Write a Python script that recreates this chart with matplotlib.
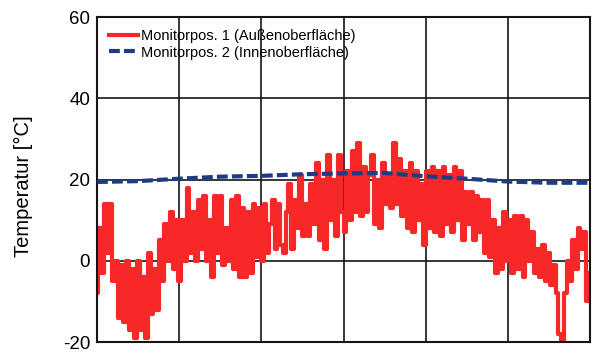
import numpy as np
import matplotlib.pyplot as plt

# temperatures (outer surface, dense oscillation)
aussen = [-8, 8, -3, 14, 2, 14, -5, 0, -14, -1, -15, 0, -17, -2, -19, 0, -17, -4, -19, 2,
          -13, -2, -12, 5, -5, 9, 0, 12, -2, 10,
          -5, 10, 0, 18, 2, 12, 0, 15, 3, 16, 0, 10, -4, 16, 2, 16, -1, 8, 0, 15,
          -2, 16, -4, 13, -4, 12, -3, 14, 1, 13,
          0, 14, 2, 9, 15, 3, 14, 4, 2, 12, 19, 3, 15, 8, 21, 6, 14, 6, 19, 9,
          24, 5, 20, 3, 26, 10, 20, 6, 26, 12,
          7, 22, 10, 27, 12, 29, 11, 23, 12, 21, 26, 9, 20, 8, 24, 14, 21, 13, 29, 14,
          25, 11, 22, 8, 24, 7, 22, 10, 19, 4,
          22, 8, 23, 7, 22, 6, 23, 9, 21, 7, 23, 10, 22, 5, 17, 9, 17, 5, 16, 7,
          15, 2, 15, 1, 10, -3, 8, -2, 12, 0,
          10, -3, 11, -2, 11, -4, 10, 0, 7, -3, 3, -4, 4, -5, 2, -6, -1, -8, -18, -20,
          -8, 0, -5, 5, -2, 8, 3, 7, -10, -3]

# inner surface, smooth
innen = [19.4, 19.6, 20.2, 20.7, 20.9, 21.3, 21.5, 21.6, 20.8, 20.2, 19.5, 19.2, 19.2]

yticks = [-20, 0, 20, 40, 60]

t_aussen = np.linspace(0, 6, len(aussen))
t_innen = np.linspace(0, 6, len(innen))

plt.rcParams['font.family'] = ['Liberation Sans', 'DejaVu Sans']
plt.rcParams['axes.unicode_minus'] = False

fig = plt.figure(figsize=(6, 3.61), dpi=100)
ax = fig.add_axes([0.1617, 0.0526, 0.8216, 0.9003])

ax.plot(t_aussen, aussen, color='#f82828', lw=3.0, drawstyle='steps-mid',
        label='Monitorpos. 1 (Außenoberfläche)', zorder=2)
ax.plot(t_innen, innen, color='#1c3c86', lw=3, dashes=(2.6, 1.0),
        label='Monitorpos. 2 (Innenoberfläche)', zorder=3)

ax.set_xlim(0, 6)
ax.set_ylim(-20, 60)
ax.set_xticks(range(7))
ax.set_xticklabels([])
ax.set_yticks(yticks)
ax.tick_params(length=0, labelsize=13.5, pad=5)
ax.grid(True, color='#151515', lw=1.2)
ax.set_axisbelow(True)
for s in ax.spines.values():
    s.set_linewidth(1.5)
    s.set_color('#151515')

ax.set_ylabel('Temperatur [°C]', fontsize=14.5)
ax.yaxis.set_label_coords(-0.13, 0.48)
ax.legend(loc='upper left', frameon=False, fontsize=10.5, handlelength=2.0,
          borderaxespad=0.4, labelspacing=0.2, handletextpad=0.2)

plt.savefig('out.png')
